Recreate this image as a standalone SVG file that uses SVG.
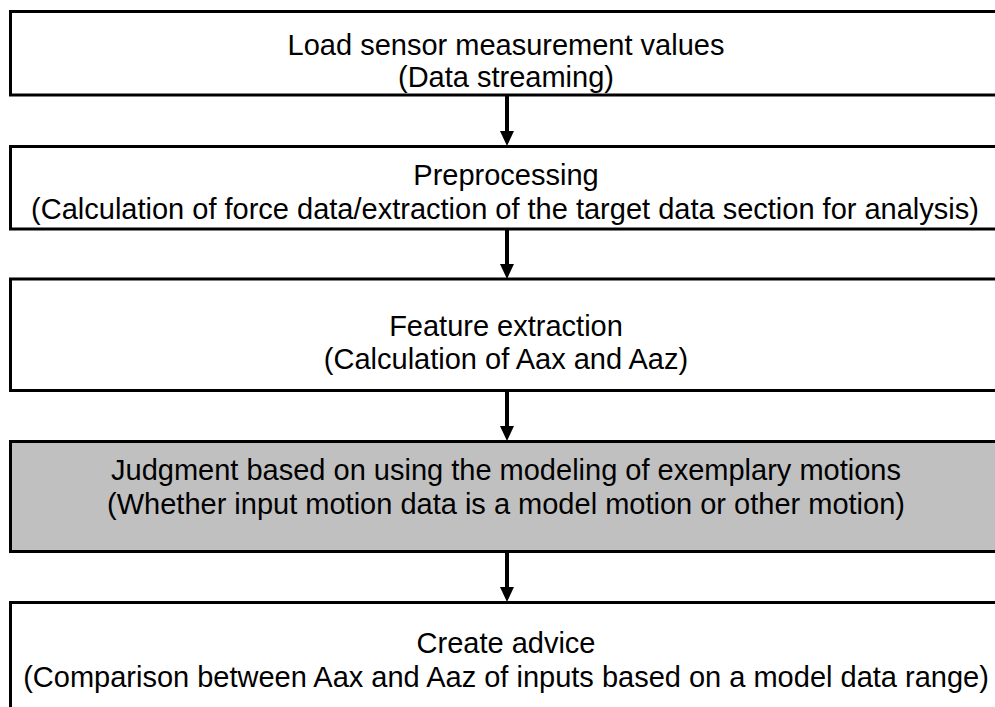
<svg xmlns="http://www.w3.org/2000/svg" width="995" height="707" viewBox="0 0 995 707">
  <style>
    .box { fill: #ffffff; stroke: #000000; stroke-width: 3; }
    .box.shaded { fill: #c0c0c0; }
    .label { font-family: "Liberation Sans", Arial, sans-serif; font-size: 29px; fill: #000000; text-anchor: middle; }
    .flow { stroke: #000000; stroke-width: 4; fill: none; }
    .head { fill: #000000; }
  </style>
  <rect width="995" height="707" fill="#ffffff"/>

  <!-- vertical flow arrows between consecutive steps -->
  <g id="connectors">
    <line class="flow" x1="507" y1="95" x2="507" y2="132"/>
    <polygon class="head" points="500,131 514,131 507,146"/>
    <line class="flow" x1="507" y1="229" x2="507" y2="265"/>
    <polygon class="head" points="500,264 514,264 507,279"/>
    <line class="flow" x1="507" y1="391" x2="507" y2="427"/>
    <polygon class="head" points="500,426 514,426 507,441"/>
    <line class="flow" x1="507" y1="552" x2="507" y2="588"/>
    <polygon class="head" points="500,587 514,587 507,602"/>
  </g>

  <g id="load-sensor">
    <rect class="box" x="10.5" y="11.5" width="1000" height="83.5"/>
    <text class="label" x="506" y="55">Load sensor measurement values</text>
    <text class="label" x="506" y="87">(Data streaming)</text>
  </g>

  <g id="preprocessing">
    <rect class="box" x="10.5" y="146.5" width="1000" height="82.5"/>
    <text class="label" x="506" y="185">Preprocessing</text>
    <text class="label" x="505" y="219">(Calculation of force data/extraction of the target data section for analysis)</text>
  </g>

  <g id="feature-extraction">
    <rect class="box" x="10.5" y="279" width="1000" height="111.5"/>
    <text class="label" x="506" y="336">Feature extraction</text>
    <text class="label" x="506" y="369">(Calculation of Aax and Aaz)</text>
  </g>

  <g id="judgment">
    <rect class="box shaded" x="10.5" y="441.5" width="1000" height="110"/>
    <text class="label" x="506" y="480">Judgment based on using the modeling of exemplary motions</text>
    <text class="label" x="506" y="514">(Whether input motion data is a model motion or other motion)</text>
  </g>

  <g id="create-advice">
    <rect class="box" x="10.5" y="602.5" width="1000" height="120"/>
    <text class="label" x="506" y="653">Create advice</text>
    <text class="label" x="506" y="687">(Comparison between Aax and Aaz of inputs based on a model data range)</text>
  </g>
</svg>
